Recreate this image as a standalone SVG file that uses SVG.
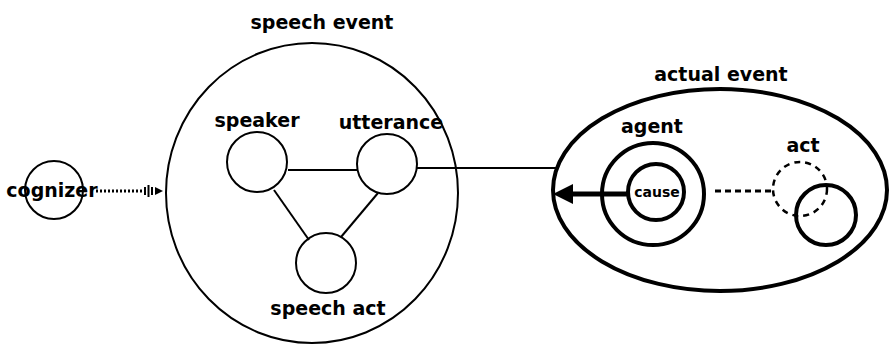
<svg xmlns="http://www.w3.org/2000/svg" width="892" height="349" viewBox="0 0 892 349">
<style>
text{font-family:"DejaVu Sans","Liberation Sans",sans-serif;font-weight:bold;fill:#000;text-anchor:middle}
.lbl{font-size:19px}
.thin{fill:none;stroke:#000;stroke-width:2}
.thick{fill:none;stroke:#000;stroke-width:4}
</style>
<rect width="892" height="349" fill="#fff"/>
<g id="connectors">
<line x1="288" y1="170" x2="357" y2="170" class="thin" stroke-width="2.5"/>
<line x1="274" y1="190" x2="309" y2="240" class="thin" stroke-width="3.5"/>
<line x1="378" y1="193" x2="341" y2="237" class="thin" stroke-width="3.5"/>
<line x1="417" y1="168" x2="556" y2="168" class="thin"/>
<line x1="96" y1="191" x2="143" y2="191" stroke="#000" stroke-width="3" stroke-dasharray="2,2"/>
<g stroke="#000" stroke-width="2">
<line x1="145" y1="187" x2="145" y2="195"/>
<line x1="148.5" y1="185" x2="148.5" y2="197"/>
<line x1="152" y1="187" x2="152" y2="195"/>
</g>
<polygon points="155,187 163,191 155,195" fill="#000"/>
<line x1="628" y1="194" x2="570" y2="194" stroke="#000" stroke-width="5"/>
<polygon points="553,194 573,184 573,204" fill="#000"/>
<line x1="715" y1="191" x2="773" y2="191" stroke="#000" stroke-width="3" stroke-dasharray="6,4"/>
</g>
<g id="speech-event">
<ellipse cx="312" cy="193" rx="146" ry="150" class="thin"/>
<text x="322" y="29" class="lbl">speech event</text>
</g>
<g id="speaker">
<circle cx="257" cy="162" r="30" class="thin"/>
<text x="257" y="127" class="lbl">speaker</text>
</g>
<g id="utterance">
<circle cx="387" cy="164" r="30" class="thin"/>
<text x="391" y="129" class="lbl">utterance</text>
</g>
<g id="speech-act">
<circle cx="326" cy="263" r="30" class="thin"/>
<text x="328" y="315" class="lbl">speech act</text>
</g>
<g id="cognizer">
<circle cx="54" cy="190" r="29" class="thin"/>
<text x="52" y="197" class="lbl">cognizer</text>
</g>
<g id="actual-event">
<ellipse cx="720" cy="190" rx="167" ry="101" class="thick"/>
<text x="721" y="81" class="lbl">actual event</text>
</g>
<g id="agent">
<circle cx="653" cy="194" r="51" class="thick"/>
<text x="652" y="133" class="lbl">agent</text>
</g>
<g id="cause">
<circle cx="656" cy="192" r="28" class="thick"/>
<text x="657" y="197" font-size="14">cause</text>
</g>
<g id="act">
<circle cx="800" cy="189" r="27" fill="none" stroke="#000" stroke-width="2.5" stroke-dasharray="6,5"/>
<circle cx="826" cy="215" r="30" class="thick"/>
<text x="803" y="152" class="lbl">act</text>
</g>
</svg>
